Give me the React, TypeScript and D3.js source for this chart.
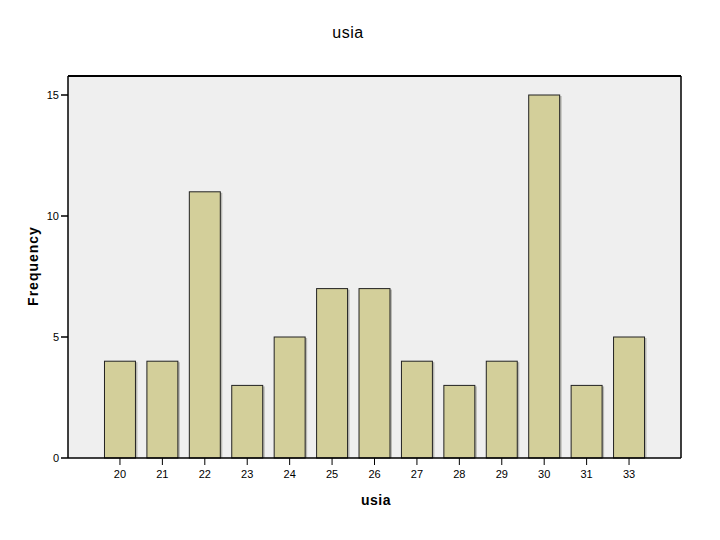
import React from "react";
import * as d3 from "d3";

const categories = ["20", "21", "22", "23", "24", "25", "26", "27", "28", "29", "30", "31", "33"];
const frequencies = [4, 4, 11, 3, 5, 7, 7, 4, 3, 4, 15, 3, 5];
const yTicks = [0, 5, 10, 15];
const title = "usia";
const xLabel = "usia";
const yLabel = "Frequency";

export default function App() {
  const W = 720, H = 540;
  const left = 68, right = 681, top = 76, bottom = 458;
  const x = d3.scaleBand<string>().domain(categories).range([left, right]).paddingInner(0.27).paddingOuter(0.86);
  const y = d3.scaleLinear().domain([0, 15]).range([bottom, 95]);
  const font = "Arial, 'Liberation Sans', sans-serif";
  return (
    <svg width={W} height={H} style={{ position: "absolute", left: 0, top: 0, background: "#fff" }}>
      <rect x={0} y={0} width={W} height={H} fill="#fff" />
      <text x={348} y={38} textAnchor="middle" fontFamily={font} fontSize={16} fill="#000" letterSpacing={0.5}>{title}</text>
      <rect x={left} y={top} width={right - left} height={bottom - top} fill="#efefef" />
      {categories.map((c, i) => {
        const bx = x(c)!;
        const bw = x.bandwidth();
        const by = y(frequencies[i]);
        return (
          <g key={c}>
            <rect x={bx + 2} y={by + 1} width={bw} height={bottom - by - 1} fill="#8c8c84" opacity={0.55} />
            <rect x={bx} y={by} width={bw} height={bottom - by} fill="#d3cf9a" stroke="#222" strokeWidth={1} />
          </g>
        );
      })}
      <line x1={left} x2={right} y1={top} y2={top} stroke="#000" strokeWidth={2} />
      <line x1={left} x2={left} y1={top} y2={bottom} stroke="#000" strokeWidth={1.5} />
      <line x1={right} x2={right} y1={top} y2={bottom} stroke="#000" strokeWidth={1.5} />
      <line x1={left} x2={right} y1={bottom} y2={bottom} stroke="#000" strokeWidth={1.5} />
      {yTicks.map((t) => (
        <g key={t}>
          <line x1={left - 7} x2={left} y1={y(t)} y2={y(t)} stroke="#000" strokeWidth={1.5} />
          <text x={left - 9} y={y(t) + 4} textAnchor="end" fontFamily={font} fontSize={11} fill="#000">{t}</text>
        </g>
      ))}
      {categories.map((c) => {
        const cx = x(c)! + x.bandwidth() / 2;
        return (
          <g key={"t" + c}>
            <line x1={cx} x2={cx} y1={bottom} y2={bottom + 7} stroke="#000" strokeWidth={1} />
            <text x={cx} y={bottom + 20} textAnchor="middle" fontFamily={font} fontSize={11} fill="#000">{c}</text>
          </g>
        );
      })}
      <text x={376} y={505} textAnchor="middle" fontFamily={font} fontSize={14} fontWeight="bold" fill="#000" letterSpacing={0.5}>{xLabel}</text>
      <text transform={`translate(38, 266) rotate(-90)`} textAnchor="middle" fontFamily={font} fontSize={14} fontWeight="bold" fill="#000" letterSpacing={1}>{yLabel}</text>
    </svg>
  );
}
